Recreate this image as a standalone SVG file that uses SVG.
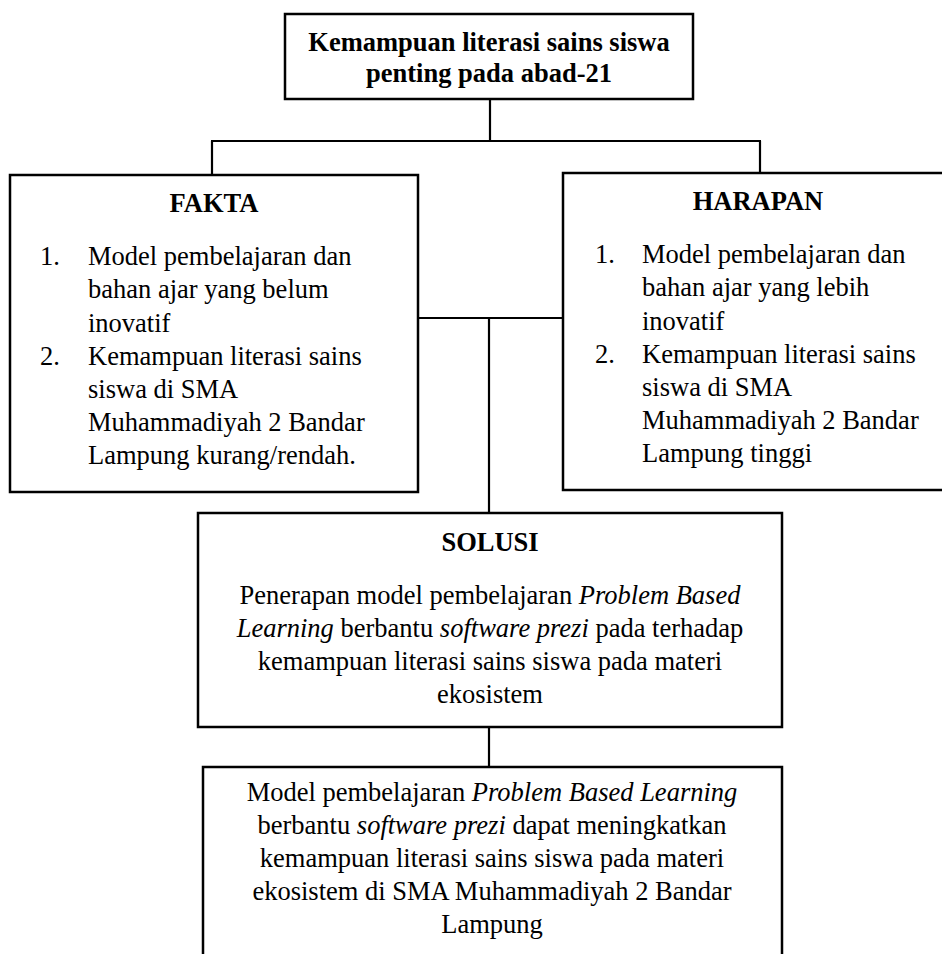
<svg xmlns="http://www.w3.org/2000/svg" width="942" height="954" viewBox="0 0 942 954">
<style>
.box{fill:#fff;stroke:#000;stroke-width:2.5}
.ln{stroke:#000;stroke-width:2.2;fill:none}
text{font-family:"Liberation Serif","Times New Roman",serif;font-size:26.5px;fill:#000}
.b{font-weight:bold}
.c{text-anchor:middle}
.i{font-style:italic}
</style>
<rect width="942" height="954" fill="#fff"/>
<g id="connectors">
<line class="ln" x1="490" y1="99" x2="490" y2="141"/>
<line class="ln" x1="211" y1="141" x2="761" y2="141"/>
<line class="ln" x1="212" y1="141" x2="212" y2="175"/>
<line class="ln" x1="760" y1="141" x2="760" y2="173"/>
<line class="ln" x1="418" y1="318" x2="563" y2="318"/>
<line class="ln" x1="489" y1="318" x2="489" y2="513"/>
<line class="ln" x1="489" y1="727" x2="489" y2="767"/>
</g>
<g id="top">
<rect class="box" x="285" y="14" width="408" height="85"/>
<text class="b c" x="489" y="51">Kemampuan literasi sains siswa</text>
<text class="b c" x="489" y="82">penting pada abad-21</text>
</g>
<g id="fakta">
<rect class="box" x="10" y="175" width="408" height="317"/>
<text class="b c" x="214" y="212">FAKTA</text>
<text x="40" y="265">1.</text>
<text x="88" y="265">Model pembelajaran dan</text>
<text x="88" y="298.3">bahan ajar yang belum</text>
<text x="88" y="331.5">inovatif</text>
<text x="40" y="364.7">2.</text>
<text x="88" y="364.7">Kemampuan literasi sains</text>
<text x="88" y="397.8">siswa di SMA</text>
<text x="88" y="431">Muhammadiyah 2 Bandar</text>
<text x="88" y="464">Lampung kurang/rendah.</text>
</g>
<g id="harapan">
<rect class="box" x="563" y="173" width="392" height="317"/>
<text class="b c" x="758" y="210">HARAPAN</text>
<text x="595" y="263">1.</text>
<text x="642" y="263">Model pembelajaran dan</text>
<text x="642" y="296.3">bahan ajar yang lebih</text>
<text x="642" y="329.5">inovatif</text>
<text x="595" y="362.7">2.</text>
<text x="642" y="362.7">Kemampuan literasi sains</text>
<text x="642" y="395.8">siswa di SMA</text>
<text x="642" y="429">Muhammadiyah 2 Bandar</text>
<text x="642" y="462">Lampung tinggi</text>
</g>
<g id="solusi">
<rect class="box" x="198" y="513" width="584" height="214"/>
<text class="b c" x="490" y="551">SOLUSI</text>
<text class="c" x="490" y="604">Penerapan model pembelajaran <tspan class="i">Problem Based</tspan></text>
<text class="c" x="490" y="637"><tspan class="i">Learning</tspan> berbantu <tspan class="i">software prezi</tspan> pada terhadap</text>
<text class="c" x="490" y="670">kemampuan literasi sains siswa pada materi</text>
<text class="c" x="490" y="703">ekosistem</text>
</g>
<g id="hasil">
<rect class="box" x="203" y="767" width="579" height="220"/>
<text class="c" x="492" y="801">Model pembelajaran <tspan class="i">Problem Based Learning</tspan></text>
<text class="c" x="492" y="834">berbantu <tspan class="i">software prezi</tspan> dapat meningkatkan</text>
<text class="c" x="492" y="867">kemampuan literasi sains siswa pada materi</text>
<text class="c" x="492" y="900">ekosistem di SMA Muhammadiyah 2 Bandar</text>
<text class="c" x="492" y="933">Lampung</text>
</g>
</svg>
